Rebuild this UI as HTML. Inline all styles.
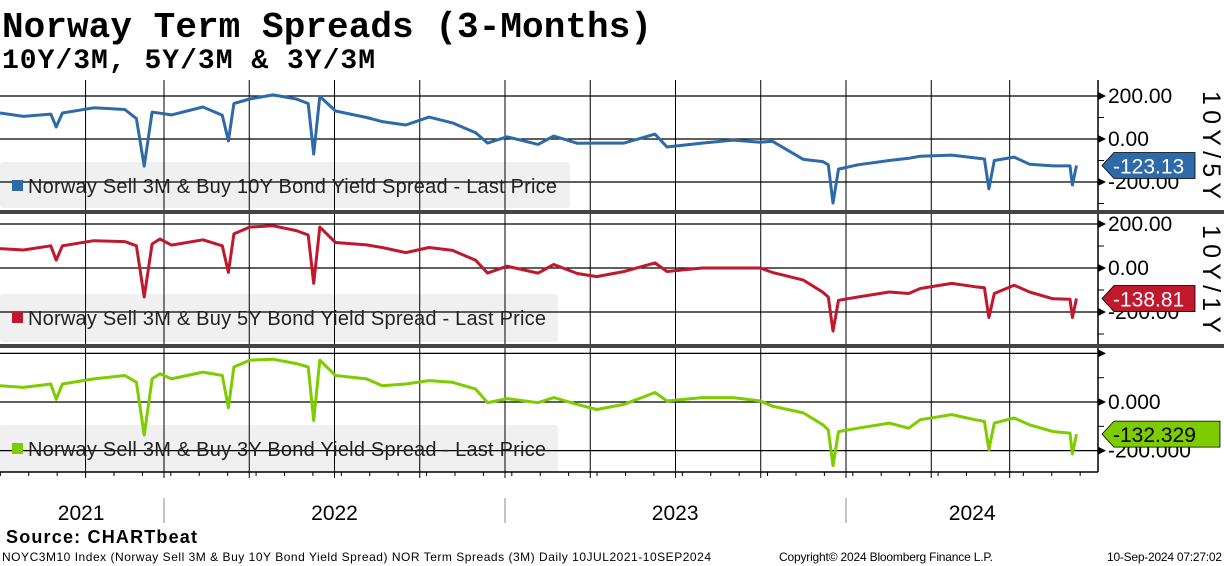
<!DOCTYPE html>
<html><head><meta charset="utf-8"><style>
html,body{margin:0;padding:0;background:#fff;}
svg{display:block;font-family:"Liberation Sans",sans-serif;}
</style></head><body>
<svg id="chart" width="1224" height="566" viewBox="0 0 1224 566">
<text x="2" y="37" font-family="Liberation Mono, monospace" font-weight="bold" font-size="36" fill="#000" textLength="650">Norway Term Spreads (3-Months)</text>
<text x="2" y="68" font-family="Liberation Mono, monospace" font-weight="bold" font-size="28" fill="#000" textLength="373">10Y/3M, 5Y/3M &amp; 3Y/3M</text>
<g id="panels"></g>
<g id="xaxis"></g>
<text x="6" y="543" font-weight="bold" font-size="18" fill="#000" textLength="191">Source: CHARTbeat</text>
<text x="2" y="561" font-size="12" fill="#000" textLength="709">NOYC3M10 Index (Norway Sell 3M &amp; Buy 10Y Bond Yield Spread) NOR Term Spreads (3M)  Daily 10JUL2021-10SEP2024</text>
<text x="779" y="561" font-size="12" fill="#000" textLength="214">Copyright© 2024 Bloomberg Finance L.P.</text>
<text x="1107" y="561" font-size="12" fill="#000" textLength="115">10-Sep-2024 07:27:02</text>
</svg>
<script>
const dates = [2021.519,2021.588,2021.668,2021.684,2021.702,2021.794,2021.885,2021.919,2021.942,2021.965,2021.988,2022.022,2022.114,2022.171,2022.189,2022.205,2022.251,2022.320,2022.388,2022.423,2022.439,2022.457,2022.503,2022.594,2022.640,2022.709,2022.777,2022.846,2022.914,2022.949,2023.006,2023.097,2023.143,2023.212,2023.269,2023.349,2023.440,2023.475,2023.578,2023.669,2023.749,2023.784,2023.875,2023.932,2023.948,2023.962,2023.978,2024.035,2024.127,2024.184,2024.218,2024.310,2024.378,2024.406,2024.419,2024.435,2024.493,2024.538,2024.607,2024.657,2024.664,2024.676];
const spread10y = [121,105,116,56,121,145,137,95,-126,125,120,112,149,110,-9,165,186,205,186,165,-70,198,130,100,81,65,102,75,29,-19,10,-25,14,-20,-19,-19,23,-37,-19,-5,-15,-10,-95,-105,-120,-298,-140,-120,-100,-90,-80,-75,-88,-93,-232,-100,-84,-117,-125,-125,-214,-123.13];
const spread5y = [88,82,101,36,101,124,120,101,-132,109,132,104,128,101,-20,155,186,192,170,150,-70,186,116,105,93,70,93,80,35,-23,8,-23,16,-25,-39,-16,23,-16,0,0,0,-20,-55,-110,-132,-287,-147,-132,-109,-116,-93,-70,-85,-90,-225,-116,-78,-109,-140,-142,-225,-138.81];
const spread3y = [67,60,74,11,74,95,109,81,-136,95,116,95,123,109,-24,144,172,176,158,144,-76,172,109,95,67,74,88,81,53,-3,14,-3,18,-10,-31,-10,39,4,18,18,4,-17,-45,-94,-115,-262,-122,-108,-87,-108,-73,-52,-73,-80,-196,-87,-66,-94,-122,-128,-214,-132.329];
const yearLabels = ["2021","2022","2023","2024"];
const yearPositions = [2021.757,2022.5,2023.499,2024.37];
const tickDecimals = [2,2,3];

const NS="http://www.w3.org/2000/svg";
function mk(tag,attrs,parent){const e=document.createElementNS(NS,tag);for(const k in attrs)e.setAttribute(k,attrs[k]);if(parent)parent.appendChild(e);return e;}
function xs(t){return 164+(t-2022)*341;}
const panelsG=document.getElementById('panels');
const panels=[
 {top:80,bottom:210,zero:139,ppu:0.215,color:"#2e6aa8",data:spread10y,legend:"Norway Sell 3M & Buy 10Y Bond Yield Spread - Last Price",legW:570,legY:162,legH:46,legTL:529,title:"10Y/5Y",ticks:[200,0,-200],labels:[200,0,-200],tag:"-123.13",tagColor:"#2e6aa8",tagText:"#fff",tagW:93,name:"10y"},
 {top:214,bottom:344,zero:268,ppu:0.22,color:"#c0182c",data:spread5y,legend:"Norway Sell 3M & Buy 5Y Bond Yield Spread - Last Price",legW:558,legY:294,legH:48,legTL:518,title:"10Y/1Y",ticks:[200,0,-200],labels:[200,0,-200],tag:"-138.81",tagColor:"#c0182c",tagText:"#fff",tagW:93,name:"5y"},
 {top:348,bottom:472,zero:402,ppu:0.243,color:"#7dcc00",data:spread3y,legend:"Norway Sell 3M & Buy 3Y Bond Yield Spread - Last Price",legW:558,legY:425,legH:47,legTL:518,title:"",ticks:[200,0,-200],labels:[0,-200],tag:"-132.329",tagColor:"#7dcc00",tagText:"#000",tagW:118,name:"3y"}
];
const vgrid=[2021.77,2022,2022.25,2022.5,2022.75,2023,2023.25,2023.5,2023.75,2024,2024.25,2024.48];
panels.forEach((p,i)=>{
 const g=mk('g',{},panelsG);
 
 
 const yv=v=>p.zero-v*p.ppu;
 const lb=mk('rect',{x:0,y:p.legY,width:p.legW,height:p.legH,fill:"#f0f0f0",rx:3},g);
 
 
 vgrid.forEach(t=>{const l=mk('line',{x1:xs(t),x2:xs(t),y1:p.top,y2:p.bottom,stroke:"#000","stroke-width":1},g);
  
  });
 p.ticks.forEach(v=>{const l=mk('line',{x1:0,x2:1098,y1:yv(v),y2:yv(v),stroke:"#000","stroke-width":1.3},g);
  
  
  mk('path',{d:`M1098 ${yv(v)-4} L1106 ${yv(v)} L1098 ${yv(v)+4}Z`,fill:"#000"},g);});
 [300,100,-100,-300].forEach(v=>{const y=yv(v);if(y>p.top&&y<p.bottom)mk('line',{x1:1098,x2:1104,y1:y,y2:y,stroke:"#000"},g);});
 mk('line',{x1:1098,x2:1098,y1:p.top,y2:p.bottom,stroke:"#000","stroke-width":1.5},g);
 const d=dates.map((t,k)=>(k?'L':'M')+xs(t).toFixed(1)+' '+yv(p.data[k]).toFixed(1)).join(' ');
 const s=mk('path',{d:d,fill:"none",stroke:p.color,"stroke-width":3,"stroke-linejoin":"round"},g);
 
 
 mk('rect',{x:12,y:p.legY+18,width:11,height:11,fill:p.color},g);
 const lt=mk('text',{x:28,y:p.legY+31,"font-size":20,fill:"#222",textLength:p.legTL},g);
 lt.textContent=p.legend;
 
 
 p.labels.forEach(v=>{const t=mk('text',{x:1108,y:yv(v)+7,"font-size":21,fill:"#000"},g);
  t.textContent=v.toFixed(tickDecimals[i]);
  
  });
 if(p.title){const cy=(p.top+p.bottom)/2;const t=mk('text',{x:0,y:0,"font-size":25,fill:"#000","text-anchor":"middle",textLength:108,transform:`translate(1203 ${cy}) rotate(90)`},g);
  t.textContent=p.title;
  
  }
 const ly=yv(p.data[p.data.length-1]);
 const tg=mk('path',{d:`M1102 ${ly} L1114 ${ly-13} L${1102+p.tagW} ${ly-13} L${1102+p.tagW} ${ly+13} L1114 ${ly+13}Z`,fill:p.tagColor,stroke:"#000","stroke-width":0.8},g);
 
 
 const tt=mk('text',{x:1113,y:ly+8,"font-size":21,fill:p.tagText},g);
 tt.textContent=p.tag;
 
 
 if(i<2){const sp=mk('rect',{x:0,y:p.bottom,width:1224,height:4,fill:"#444"},g);
  
  }
});
const xa=document.getElementById('xaxis');
mk('line',{x1:0,x2:1098,y1:472,y2:472,stroke:"#000","stroke-width":1.5},xa);
for(let m=0;m<40;m++){const t=2021.5+m/12+0.02;const x=xs(t);if(x>1098)break;mk('line',{x1:x,x2:x,y1:472,y2:476,stroke:"#000"},xa);}
vgrid.forEach(t=>mk('line',{x1:xs(t),x2:xs(t),y1:472,y2:478,stroke:"#000"},xa));
[2022,2023,2024].forEach(t=>mk('line',{x1:xs(t),x2:xs(t),y1:498,y2:523,stroke:"#888"},xa));
yearLabels.forEach((l,k)=>{const t=mk('text',{x:xs(yearPositions[k]),y:520,"font-size":21,"text-anchor":"middle",fill:"#000"},xa);
 t.textContent=l;
 
 });
</script>
</body></html>
